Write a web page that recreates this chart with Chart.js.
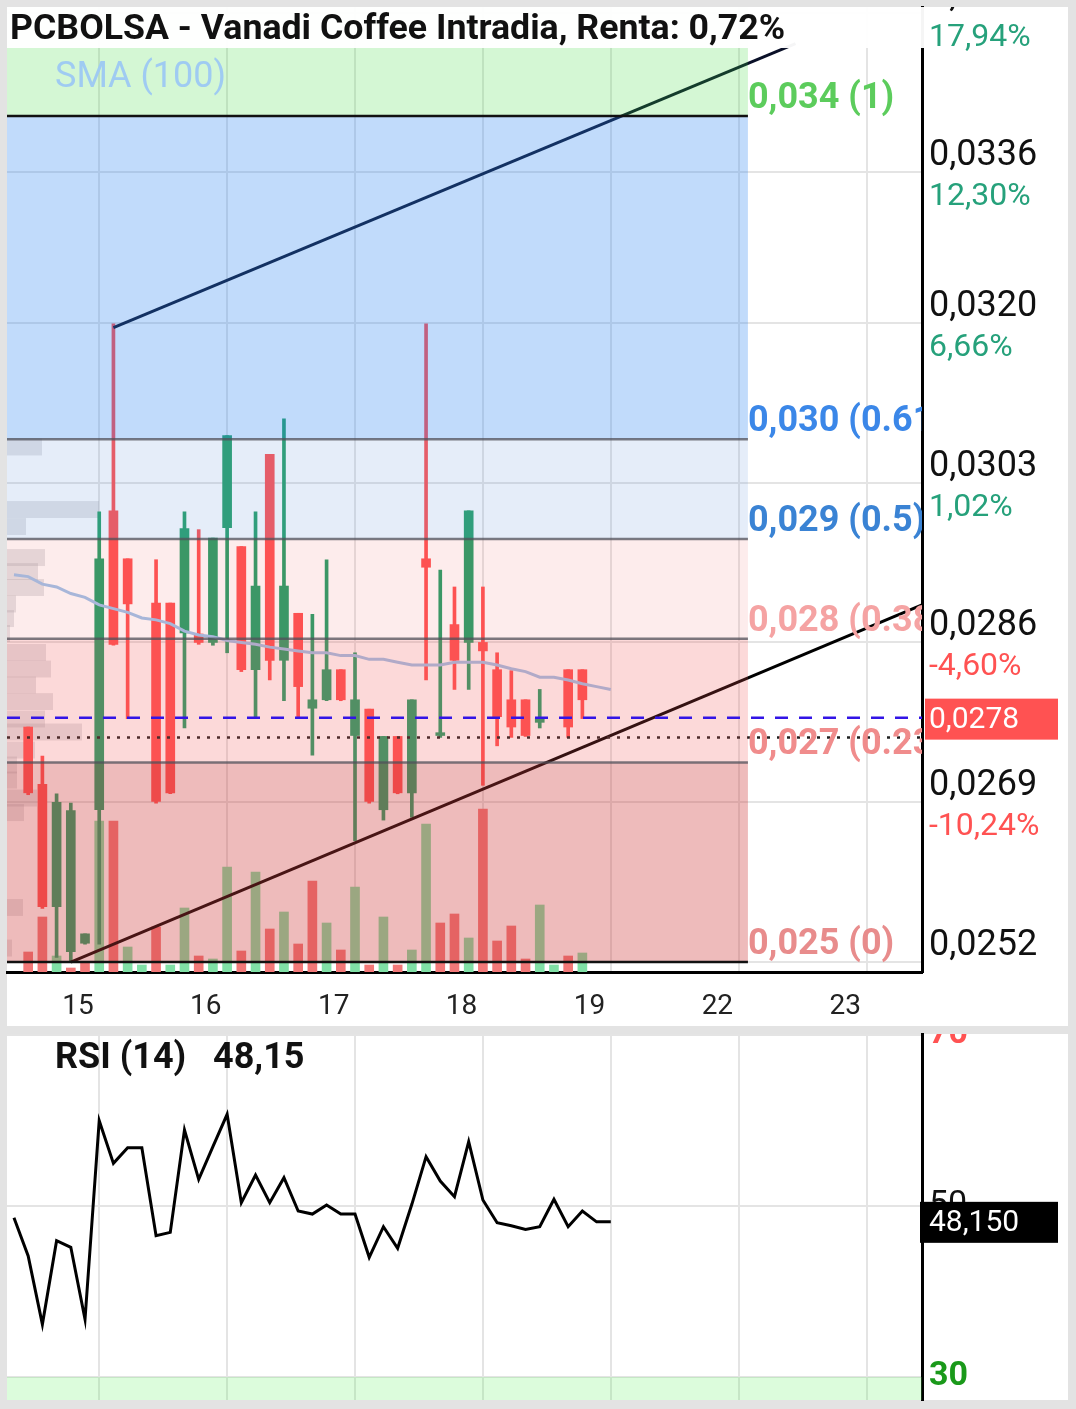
<!DOCTYPE html>
<html>
<head>
<meta charset="utf-8">
<script src="https://cdn.jsdelivr.net/npm/chart.js@4.4.1/dist/chart.umd.min.js"></script>
<style>
  html, body { margin: 0; padding: 0; background: #e3e3e3; }
  #wrap { position: relative; width: 1076px; height: 1409px; }
  #main { position: absolute; left: 0; top: 0; }
  #rsi { position: absolute; left: 0; top: 1030px; }
</style>
</head>
<body>
<div id="wrap">
  <canvas id="main" width="1076" height="1030" style="width:1076px;height:1030px"></canvas>
  <canvas id="rsi" width="1076" height="379" style="width:1076px;height:379px"></canvas>
</div>
<script>
// ---- datos (velas intradia, una por posicion) ----
const opens  = [null, 0.02770, 0.02709, 0.02579, 0.02531, 0.02540, 0.02682, 0.03000, 0.02949, null,
                0.02902, 0.02902, 0.02870, 0.02869, 0.02860, 0.02982, 0.02962, 0.02831, 0.03060, 0.02841,
                0.02891, 0.02790, 0.02799, 0.02831, 0.02761, 0.02789, 0.02682, 0.02760, 0.02700, 0.02949,
                0.02761, 0.02879, 0.02860, 0.02860, 0.02831, 0.02799, 0.02799, 0.02775, null, 0.02831,
                0.02831, null, null];
const highs  = [null, 0.02770, 0.02739, 0.02699, 0.02689, 0.02550, 0.02999, 0.03199, 0.02949, null,
                0.02948, 0.02902, 0.02999, 0.02980, 0.02971, 0.03080, 0.02962, 0.02999, 0.03060, 0.03098,
                0.02891, 0.02890, 0.02948, 0.02831, 0.02849, 0.02789, 0.02760, 0.02760, 0.02799, 0.03199,
                0.02937, 0.02919, 0.03000, 0.02919, 0.02849, 0.02830, 0.02799, 0.02810, null, 0.02831,
                0.02831, null, null];
const lows   = [null, 0.02698, 0.02577, 0.02525, 0.02520, 0.02539, 0.02539, 0.02857, 0.02779, null,
                0.02689, 0.02699, 0.02769, 0.02858, 0.02857, 0.02849, 0.02829, 0.02779, 0.02820, 0.02798,
                0.02779, 0.02740, 0.02798, 0.02798, 0.02649, 0.02689, 0.02671, 0.02699, 0.02674, 0.02820,
                0.02759, 0.02810, 0.02810, 0.02708, 0.02750, 0.02759, 0.02760, 0.02769, null, 0.02759,
                0.02779, null, null];
const closes = [null, 0.02700, 0.02579, 0.02690, 0.02681, 0.02550, 0.02949, 0.02858, 0.02901, null,
                0.02691, 0.02700, 0.02981, 0.02860, 0.02971, 0.03080, 0.02831, 0.02920, 0.02841, 0.02920,
                0.02813, 0.02799, 0.02831, 0.02799, 0.02799, 0.02691, 0.02760, 0.02700, 0.02799, 0.02940,
                0.02764, 0.02841, 0.03000, 0.02851, 0.02781, 0.02770, 0.02761, 0.02779, null, 0.02770,
                0.02799, null, null];
const volumes = [null, 20000, 55000, 16000, 4000, 9000, 151000, 151000, 25000, 7000,
                 45000, 7000, 64000, 16000, 13000, 105000, 21000, 100000, 43000, 60000,
                 28000, 91000, 49000, 22000, 85000, 7000, 55000, 7000, 22000, 148000,
                 49000, 58000, 34000, 163000, 31000, 46000, 13000, 67000, 7000, 16000,
                 19000, null, null];
const volumeUp = [0, -1, -1, 1, -1, -1, 1, -1, 1, 1,
                  -1, 1, 1, -1, 1, 1, -1, 1, -1, 1,
                  -1, -1, 1, -1, 1, -1, 1, -1, 1, 1,
                  -1, -1, 1, -1, -1, -1, -1, 1, 1, -1,
                  1, 0, 0];
const sma100 = [0.02932, 0.02930, 0.02922, 0.02919, 0.02912, 0.02908, 0.02900, 0.02896, 0.02892, 0.02886,
                0.02884, 0.02880, 0.02872, 0.02868, 0.02866, 0.02862, 0.02860, 0.02858, 0.02855, 0.02853,
                0.02851, 0.02849, 0.02849, 0.02846, 0.02846, 0.02842, 0.02842, 0.02839, 0.02836, 0.02836,
                0.02836, 0.02839, 0.02839, 0.02839, 0.02836, 0.02832, 0.02829, 0.02823, 0.02823, 0.02820,
                0.02816, 0.02813, 0.02810];
const rsi14 = [48.63, 44.15, 36.16, 45.94, 45.17, 36.75, 59.98, 54.99, 56.82, 56.82,
               46.53, 46.92, 58.89, 53.12, 56.94, 60.72, 50.39, 53.63, 50.39, 53.31,
               49.42, 49.06, 50.12, 49.06, 49.06, 44.00, 47.58, 45.05, 50.20, 55.77,
               52.92, 51.09, 57.52, 50.70, 48.05, 47.70, 47.27, 47.58, 50.78, 47.58,
               49.42, 48.15, 48.15];

// perfil de volumen por precio (izquierda)
const profilePrices = [0.030679, 0.030014, 0.029833, 0.029503, 0.029354, 0.029184, 0.029009, 0.028854,
                       0.028695, 0.028493, 0.028317, 0.028147, 0.027971, 0.027785, 0.027647, 0.027455,
                       0.027296, 0.027136, 0.026945, 0.026790, 0.025780, 0.025349];
const profileVolumes = [35, 92, 19, 38, 31, 37, 9, 7, 3, 39, 44, 29, 46, 38, 75, 28, 10, 10, 30, 17, 16, 5];

// eje de dias
const dayGrid = [6, 15, 24, 33, 42, 51, 60];
const dayLabelPos = [4.5, 13.5, 22.5, 31.5, 40.5, 49.5, 58.5];
const dayLabels = ['15', '16', '17', '18', '19', '22', '23'];

// eje de precios
const priceTicks = [0.0252, 0.0269, 0.0286, 0.0303, 0.0320, 0.0336, 0.0353];
const priceTickLabels = ['0,0252', '0,0269', '0,0286', '0,0303', '0,0320', '0,0336', '0,0353'];
const pctLabels = ['-15,88%', '-10,24%', '-4,60%', '1,02%', '6,66%', '12,30%', '17,94%'];

// fibonacci
const fibLow = 0.0252, fibHigh = 0.0342;
const fibLevels = [0, 0.236, 0.382, 0.5, 0.618, 1];
const fibLevelText = ['0', '0.236', '0.382', '0.5', '0.618', '1'];
const fibZoneColors = ['rgba(205,60,60,0.35)', 'rgba(240,80,80,0.22)', 'rgba(240,80,80,0.11)',
                       'rgba(100,150,220,0.17)', 'rgba(40,130,240,0.29)', 'rgba(60,220,60,0.22)'];
const fibLineColors = ['#111', 'rgba(80,80,90,0.75)', 'rgba(80,80,90,0.75)', 'rgba(80,80,90,0.75)',
                       'rgba(80,80,90,0.75)', '#111'];
const fibTextColors = ['#e88c8c', '#f08c8c', '#f5a3a3', '#3a83d4', '#3b87e8', '#5ccc5c'];
const fibEndIdx = 51.65;

// lineas de tendencia [indice, precio]
const upperTrend = [[7, 0.03195], [55, 0.03497]];
const lowerTrend = [[4, 0.02520], [63.9, 0.02900]];
const lastPrice = 0.0278;
const refPrice = 0.02759;

// RSI
const rsiTicks = [30, 50, 70];
const rsiTickColors = ['#1a991a', '#111', '#ff5252'];
const rsiLast = 48.15;

const xMin = -0.49, xMax = 63.9;
const yMin = 0.025094, yMax = 0.03536;

const GREEN = '#26a069', RED = '#ff5252';
const FONT = 'Roboto';

// ---- construir datasets ----
const bodies = [], wicks = [], bodyColors = [], volData = [], volColors = [];
opens.forEach((o, i) => {
  if (o === null) return;
  const up = closes[i] >= o;
  bodies.push({x: i, y: [o, closes[i]]});
  wicks.push({x: i, y: [lows[i], highs[i]]});
  bodyColors.push(up ? GREEN : RED);
});
volumes.forEach((v, i) => {
  if (v === null) return;
  volData.push({x: i, y: v});
  volColors.push(volumeUp[i] > 0 ? '#80e0a6' : '#f27878');
});

function line(ctx, x0, y0, x1, y1) {
  ctx.beginPath(); ctx.moveTo(x0, y0); ctx.lineTo(x1, y1); ctx.stroke();
}

const mainDeco = {
  id: 'mainDeco',
  beforeDraw(chart) {
    const ctx = chart.ctx;
    ctx.save();
    ctx.fillStyle = '#e3e3e3';
    ctx.fillRect(0, 0, chart.width, chart.height);
    ctx.fillStyle = '#fff';
    ctx.fillRect(7, 7, 1061, 1019);
    ctx.restore();
  },
  beforeDatasetsDraw(chart) {
    const {ctx, chartArea: a} = chart;
    const ys = chart.scales.y;
    ctx.save();
    ctx.fillStyle = 'rgba(150,150,160,0.25)';
    const binH = 0.00018;
    profilePrices.forEach((p, k) => {
      const yt = ys.getPixelForValue(p + binH / 2), yb = ys.getPixelForValue(p - binH / 2);
      ctx.fillRect(a.left, yt, profileVolumes[k], yb - yt);
    });
    ctx.restore();
  },
  afterDatasetsDraw(chart) {
    const {ctx, chartArea: a} = chart;
    const xs = chart.scales.x, ys = chart.scales.y;
    ctx.save();
    ctx.beginPath(); ctx.rect(a.left, a.top, a.right - a.left, a.bottom - a.top); ctx.clip();

    // tendencias
    ctx.lineWidth = 3;
    ctx.strokeStyle = '#0a1028';
    line(ctx, xs.getPixelForValue(upperTrend[0][0]), ys.getPixelForValue(upperTrend[0][1]),
              xs.getPixelForValue(upperTrend[1][0]), ys.getPixelForValue(upperTrend[1][1]));
    ctx.strokeStyle = '#000';
    line(ctx, xs.getPixelForValue(lowerTrend[0][0]), ys.getPixelForValue(lowerTrend[0][1]),
              xs.getPixelForValue(lowerTrend[1][0]), ys.getPixelForValue(lowerTrend[1][1]));

    // linea punteada
    ctx.setLineDash([3, 7]);
    ctx.lineWidth = 2.5;
    ctx.strokeStyle = '#222';
    const yr = ys.getPixelForValue(refPrice);
    line(ctx, a.left, yr, a.right, yr);
    ctx.setLineDash([]);

    // zonas fibonacci
    const fibP = fibLevels.map(l => fibLow + l * (fibHigh - fibLow));
    const xr = xs.getPixelForValue(fibEndIdx);
    fibLevels.forEach((l, k) => {
      const yb = ys.getPixelForValue(fibP[k]);
      const yt = k < fibLevels.length - 1 ? ys.getPixelForValue(fibP[k + 1]) : a.top;
      ctx.fillStyle = fibZoneColors[k];
      ctx.fillRect(a.left, yt, xr - a.left, yb - yt);
    });
    ctx.lineWidth = 2.5;
    fibLevels.forEach((l, k) => {
      const yy = ys.getPixelForValue(fibP[k]);
      ctx.strokeStyle = fibLineColors[k];
      line(ctx, a.left, yy, xr, yy);
    });

    // precio actual
    ctx.setLineDash([13, 11]);
    ctx.strokeStyle = '#3214e6';
    const yl = ys.getPixelForValue(lastPrice);
    line(ctx, a.left, yl, a.right, yl);
    ctx.setLineDash([]);

    // etiquetas fibonacci
    ctx.font = 'bold 36px ' + FONT;
    ctx.textBaseline = 'middle';
    ctx.textAlign = 'left';
    fibLevels.forEach((l, k) => {
      const yy = ys.getPixelForValue(fibP[k]);
      const txt = (Math.floor(fibP[k] * 1000 + 1e-9) / 1000).toFixed(3).replace('.', ',') +
                  ' (' + fibLevelText[k] + ')';
      ctx.fillStyle = fibTextColors[k];
      ctx.fillText(txt, xr, yy - 17);
    });

    ctx.fillStyle = '#9fcbf2';
    ctx.font = '36px ' + FONT;
    ctx.fillText('SMA (100)', 55, 78);
    ctx.restore();
  },
  afterDraw(chart) {
    const {ctx, chartArea: a} = chart;
    const ys = chart.scales.y;
    ctx.save();
    // titulo
    ctx.fillStyle = 'rgba(255,255,255,0.96)';
    ctx.fillRect(7, 7, 918, 41);
    ctx.fillStyle = '#111';
    ctx.font = 'bold 35.7px ' + FONT;
    ctx.textBaseline = 'middle';
    ctx.textAlign = 'left';
    ctx.fillText('PCBOLSA - Vanadi Coffee Intradia, Renta: 0,72%', 10, 30);

    // etiquetas del eje derecho
    ctx.save();
    ctx.beginPath(); ctx.rect(a.right + 2, 7, 1068 - a.right, a.bottom - 6); ctx.clip();
    priceTicks.forEach((p, k) => {
      const yy = ys.getPixelForValue(p);
      ctx.font = '36px ' + FONT;
      ctx.fillStyle = '#111';
      ctx.fillText(priceTickLabels[k], a.right + 7, yy - 16);
      ctx.font = '32px ' + FONT;
      ctx.fillStyle = pctLabels[k].startsWith('-') ? '#ff5252' : '#26a17b';
      ctx.fillText(pctLabels[k], a.right + 7, yy + 25);
    });
    ctx.restore();

    // etiqueta de precio actual
    const yl = ys.getPixelForValue(lastPrice);
    ctx.fillStyle = '#ff5252';
    ctx.fillRect(a.right + 3, yl - 19, 133, 41);
    ctx.fillStyle = '#fff';
    ctx.font = '30px ' + FONT;
    ctx.fillText(lastPrice.toFixed(4).replace('.', ','), a.right + 7, yl + 3);
    ctx.restore();
  }
};

new Chart(document.getElementById('main'), {
  type: 'bar',
  data: {
    datasets: [
      {type: 'line', label: 'SMA (100)', data: sma100.map((v, i) => ({x: i, y: v})),
       borderColor: '#9fc3ea', borderWidth: 3, pointRadius: 0, tension: 0, yAxisID: 'y', order: 1},
      {label: 'Cuerpo', data: bodies, backgroundColor: bodyColors, barThickness: 9,
       grouped: false, yAxisID: 'y', order: 2},
      {label: 'Mecha', data: wicks, backgroundColor: bodyColors, barThickness: 3,
       grouped: false, yAxisID: 'y', order: 3},
      {label: 'Volumen', data: volData, backgroundColor: volColors, barThickness: 9,
       grouped: false, yAxisID: 'v', order: 4}
    ]
  },
  options: {
    responsive: false,
    animation: false,
    devicePixelRatio: 1,
    layout: {padding: {left: 7, top: 7, right: 0, bottom: 0}},
    plugins: {legend: {display: false}, tooltip: {enabled: false}},
    scales: {
      x: {
        type: 'linear', min: xMin, max: xMax, offset: false, position: 'bottom',
        grid: {color: '#e4e4e4', lineWidth: 2, drawTicks: false, offset: false},
        border: {display: false},
        ticks: {display: false},
        afterBuildTicks: s => { s.ticks = dayGrid.map(v => ({value: v})); },
        afterFit: s => { s.height = 0; }
      },
      xl: {
        type: 'linear', min: xMin, max: xMax, offset: false, position: 'bottom',
        grid: {display: false, drawTicks: false, offset: false},
        border: {display: true, color: '#000', width: 3},
        ticks: {color: '#222', font: {family: FONT, size: 28}, padding: 18, maxRotation: 0,
                autoSkip: false, callback: (v, k) => dayLabels[k]},
        afterBuildTicks: s => { s.ticks = dayLabelPos.map(v => ({value: v})); },
        afterFit: s => { s.height = 58; }
      },
      y: {
        type: 'linear', position: 'right', min: yMin, max: yMax,
        grid: {color: '#e4e4e4', lineWidth: 2, drawTicks: false},
        border: {color: '#000', width: 3},
        ticks: {display: false},
        afterBuildTicks: s => { s.ticks = priceTicks.map(v => ({value: v})); },
        afterFit: s => { s.width = 154; }
      },
      v: {type: 'linear', display: false, min: 0, max: 965000}
    }
  },
  plugins: [mainDeco]
});

const rsiDeco = {
  id: 'rsiDeco',
  beforeDraw(chart) {
    const ctx = chart.ctx;
    ctx.save();
    ctx.fillStyle = '#e3e3e3';
    ctx.fillRect(0, 0, chart.width, chart.height);
    ctx.fillStyle = '#fff';
    ctx.fillRect(7, 4, 1061, 366);
    ctx.restore();
  },
  beforeDatasetsDraw(chart) {
    const {ctx, chartArea: a} = chart;
    const ys = chart.scales.y;
    const y30 = ys.getPixelForValue(30);
    ctx.save();
    ctx.fillStyle = 'rgba(90,240,90,0.21)';
    ctx.fillRect(a.left, y30, a.right - a.left, a.bottom - y30);
    ctx.restore();
  },
  afterDraw(chart) {
    const {ctx, chartArea: a} = chart;
    const ys = chart.scales.y;
    ctx.save();
    ctx.beginPath(); ctx.rect(7, 4, 1061, 366); ctx.clip();
    ctx.textBaseline = 'middle';
    ctx.textAlign = 'left';
    ctx.fillStyle = '#111';
    ctx.font = 'bold 36px ' + FONT;
    ctx.fillText('RSI (14)', 55, 29);
    ctx.fillText(rsiLast.toFixed(2).replace('.', ','), 213, 29);
    rsiTicks.forEach((t, k) => {
      ctx.fillStyle = rsiTickColors[k];
      ctx.font = (t === 50 ? '' : 'bold ') + '34px ' + FONT;
      ctx.fillText(String(t), a.right + 7, ys.getPixelForValue(t) - 1);
    });
    const yv = ys.getPixelForValue(rsiLast);
    ctx.fillStyle = '#000';
    ctx.fillRect(a.right - 2, yv - 20, 138, 41);
    ctx.fillStyle = '#fff';
    ctx.font = '30px ' + FONT;
    ctx.fillText(rsiLast.toFixed(3).replace('.', ','), a.right + 7, yv + 2);
    ctx.restore();
  }
};

new Chart(document.getElementById('rsi'), {
  type: 'line',
  data: {
    datasets: [{label: 'RSI (14)', data: rsi14.map((v, i) => ({x: i, y: v})),
                borderColor: '#000', borderWidth: 3, pointRadius: 0, tension: 0}]
  },
  options: {
    responsive: false,
    animation: false,
    devicePixelRatio: 1,
    layout: {padding: {left: 7, top: 4, right: 0, bottom: 9}},
    plugins: {legend: {display: false}, tooltip: {enabled: false}},
    scales: {
      x: {
        type: 'linear', min: xMin, max: xMax, offset: false,
        grid: {color: '#e4e4e4', lineWidth: 2, drawTicks: false},
        border: {display: false},
        ticks: {display: false},
        afterBuildTicks: s => { s.ticks = dayGrid.map(v => ({value: v})); },
        afterFit: s => { s.height = 0; }
      },
      y: {
        type: 'linear', position: 'right', min: 27.31, max: 70.12,
        grid: {color: '#e4e4e4', lineWidth: 2, drawTicks: false},
        border: {color: '#000', width: 3},
        ticks: {display: false},
        afterBuildTicks: s => { s.ticks = rsiTicks.map(v => ({value: v})); },
        afterFit: s => { s.width = 154; }
      }
    }
  },
  plugins: [rsiDeco]
});
</script>
</body>
</html>
